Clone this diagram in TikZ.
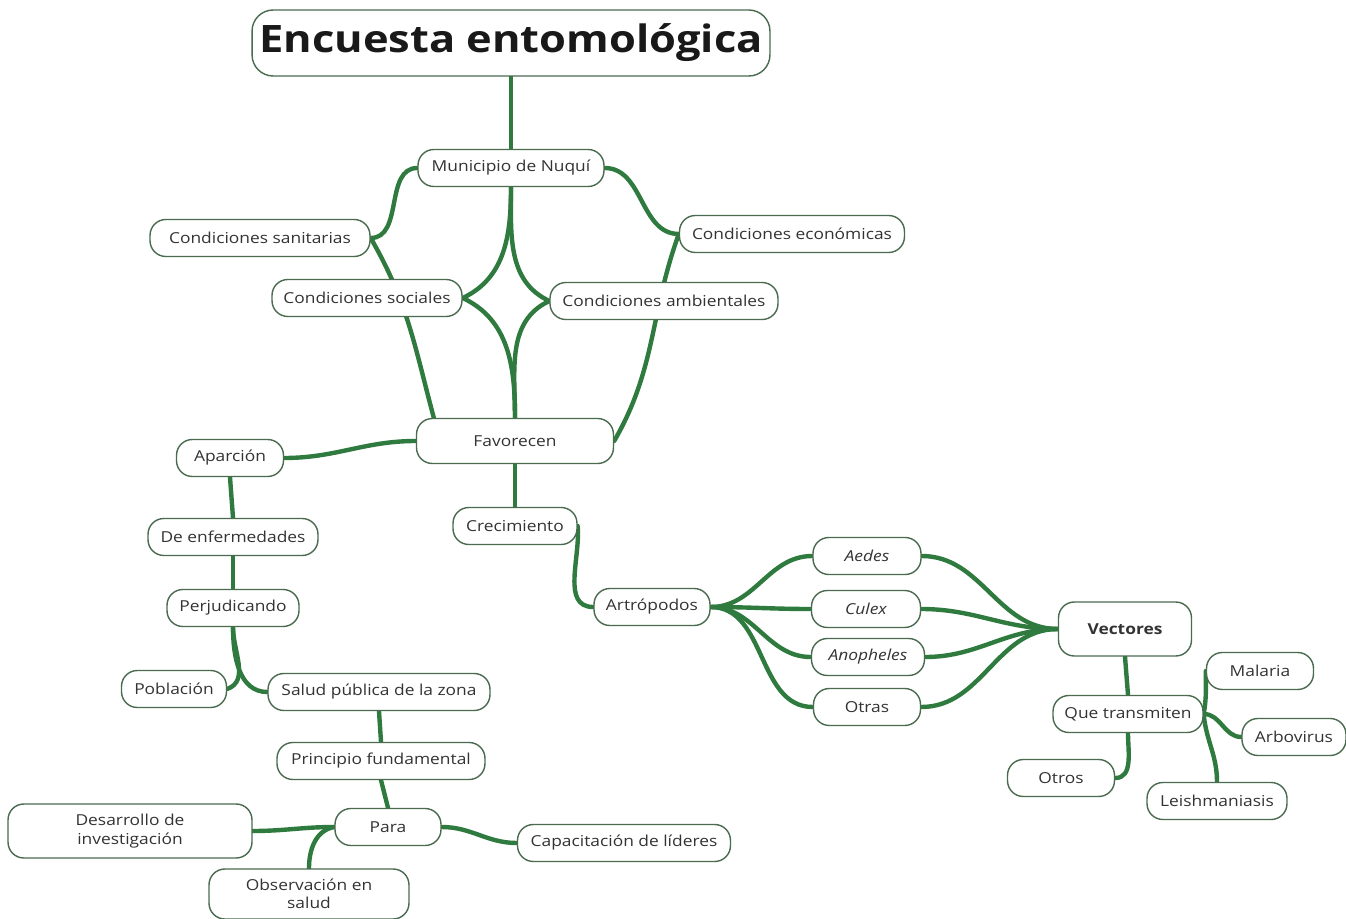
\documentclass[tikz,border=0pt]{standalone}
\usepackage{fontspec}
\setmainfont{Open Sans}[FakeStretch=1.15]
\usetikzlibrary{backgrounds}
\definecolor{edgec}{HTML}{2F7A3E}
\definecolor{boxc}{HTML}{4A6B50}
\definecolor{txtc}{HTML}{333333}
\tikzset{
  box/.style={draw=boxc, line width=0.8pt, fill=white, rounded corners=9pt,
    minimum height=0.74cm, inner sep=2pt, text=txtc, align=center,
    font=\fontsize{8.6}{10.4}\selectfont},
  link/.style={draw=edgec, line width=2.5pt, line cap=round},
}
\begin{document}
\begin{tikzpicture}[x=0.02cm,y=-0.02cm]
\useasboundingbox (0,0) rectangle (1346,919);
% nodes
\node[box, minimum width=10.36cm, minimum height=1.32cm, rounded corners=12pt, text=black!90,
  font=\fontsize{21.5}{24}\selectfont\bfseries] (tit) at (511,43) {Encuesta entomológica};
\node[box, minimum width=3.72cm] (mun) at (511,168) {Municipio de Nuquí};
\node[box, minimum width=4.4cm] (san) at (260,238) {Condiciones sanitarias};
\node[box, minimum width=4.5cm] (eco) at (792,234) {Condiciones económicas};
\node[box, minimum width=3.8cm] (soc) at (367,298) {Condiciones sociales};
\node[box, minimum width=4.56cm] (amb) at (664,301) {Condiciones ambientales};
\node[box, minimum width=3.94cm, minimum height=0.9cm] (fav) at (515,441) {Favorecen};
\node[box, minimum width=2.14cm] (apa) at (230,458) {Aparción};
\node[box, minimum width=2.48cm] (cre) at (515,526) {Crecimiento};
\node[box, minimum width=3.4cm] (enf) at (233,537) {De enfermedades};
\node[box, minimum width=2.64cm] (per) at (233,608) {Perjudicando};
\node[box, minimum width=2.1cm] (pob) at (174,689) {Población};
\node[box, minimum width=4.44cm] (sal) at (379,692) {Salud pública de la zona};
\node[box, minimum width=4.16cm] (pri) at (381,761) {Principio fundamental};
\node[box, minimum width=2.12cm] (para) at (388,827) {Para};
\node[box, minimum width=4.88cm, minimum height=1.08cm] (des) at (130,831) {Desarrollo de\\investigación};
\node[box, minimum width=4.26cm] (cap) at (624,843) {Capacitación de líderes};
\node[box, minimum width=4cm, minimum height=1.0cm] (obs) at (309,894) {Observación en\\salud};
\node[box, minimum width=2.32cm] (art) at (652,607) {Artrópodos};
\node[box, minimum width=2.16cm] (aed) at (867,556) {\itshape Aedes};
\node[box, minimum width=2.18cm] (cul) at (866,609) {\itshape Culex};
\node[box, minimum width=2.26cm] (ano) at (868,657) {\itshape Anopheles};
\node[box, minimum width=2.14cm] (otr) at (867,707) {Otras};
\node[box, minimum width=2.66cm, minimum height=1.08cm, font=\fontsize{8.6}{10.4}\selectfont\bfseries] (vec) at (1125,629) {Vectores};
\node[box, minimum width=3.0cm] (que) at (1128,714) {Que transmiten};
\node[box, minimum width=2.14cm] (mal) at (1260,671) {Malaria};
\node[box, minimum width=2.08cm] (arb) at (1294,737) {Arbovirus};
\node[box, minimum width=2.14cm] (oto) at (1061,778) {Otros};
\node[box, minimum width=2.8cm] (lei) at (1217,801) {Leishmaniasis};
% connectors
\begin{scope}[on background layer]
\fill[white] (0,0) rectangle (1346,919);
\draw[link] (tit.south) -- (mun.north);
\draw[link] (mun.west) to[out=180,in=0] (san.east);
\draw[link] (san.east) to[out=-60,in=105] ([xshift=0.36cm]fav.north west);
\draw[link] (mun.south) to[out=-90,in=25] (soc.east);
\draw[link] (mun.south) to[out=-90,in=155] (amb.west);
\draw[link] (soc.east) to[out=-25,in=90] (fav.north);
\draw[link] (amb.west) to[out=205,in=90] (fav.north);
\draw[link] (mun.east) to[out=0,in=180] (eco.west);
\draw[link] (eco.west) to[out=250,in=60] (fav.east);
\draw[link] (fav.west) to[out=180,in=0] (apa.east);
\draw[link] (fav.south) -- (cre.north);
\draw[link] (apa.south) -- (enf.north);
\draw[link] (enf.south) -- (per.north);
\draw[link] (per.south) to[out=-90,in=20] (pob.east);
\draw[link] (per.south) to[out=-90,in=180] (sal.west);
\draw[link] (sal.south) -- (pri.north);
\draw[link] (pri.south) -- (para.north);
\draw[link] (para.west) to[out=180,in=0] (des.east);
\draw[link] (para.west) to[out=190,in=90] (obs.north);
\draw[link] (para.east) to[out=0,in=180] (cap.west);
\draw[link] (cre.east) to[out=-85,in=180] (art.west);
\foreach \n in {aed,cul,ano,otr}{
  \draw[link] (art.east) to[out=0,in=180] (\n.west);
  \draw[link] (\n.east) to[out=0,in=180] (vec.west);
}
\draw[link] (vec.south) -- (que.north);
\draw[link] (que.south) to[out=-90,in=0] (oto.east);
\draw[link] (que.east) to[out=80,in=-90] (mal.west);
\draw[link] (que.east) to[out=0,in=180] (arb.west);
\draw[link] (que.east) to[out=-85,in=90] (lei.north);
\end{scope}
\end{tikzpicture}
\end{document}
